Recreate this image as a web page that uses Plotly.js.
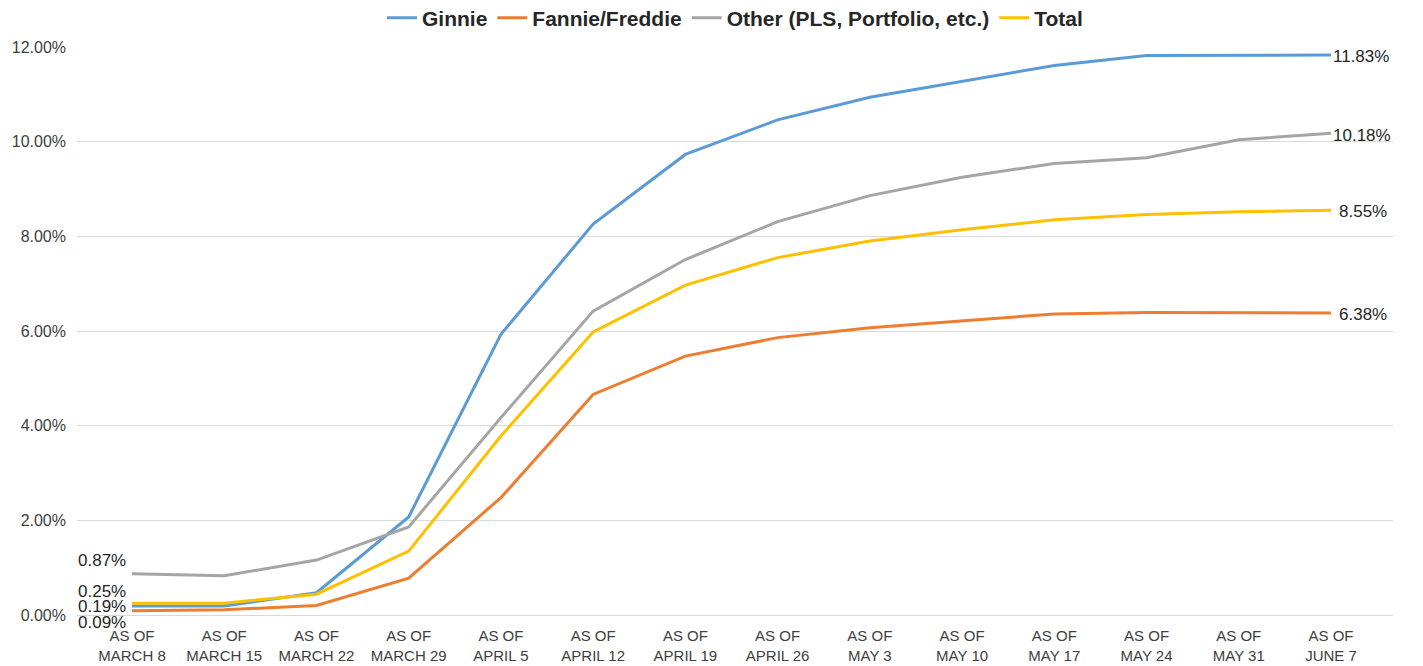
<!DOCTYPE html>
<html>
<head>
<meta charset="utf-8">
<script src="https://cdn.plot.ly/plotly-3.0.1.min.js"></script>
<style>html,body{margin:0;padding:0;background:#fff;}#chart{width:1423px;height:666px;}</style>
</head>
<body>
<div id="chart"></div>
<script>
const categories = ["AS OF<br>MARCH 8","AS OF<br>MARCH 15","AS OF<br>MARCH 22","AS OF<br>MARCH 29","AS OF<br>APRIL 5","AS OF<br>APRIL 12","AS OF<br>APRIL 19","AS OF<br>APRIL 26","AS OF<br>MAY 3","AS OF<br>MAY 10","AS OF<br>MAY 17","AS OF<br>MAY 24","AS OF<br>MAY 31","AS OF<br>JUNE 7"];
const ginnie = [0.19,0.19,0.47,2.07,5.93,8.26,9.73,10.46,10.94,11.27,11.61,11.82,11.83,11.83];
const fannieFreddie = [0.09,0.11,0.20,0.78,2.48,4.66,5.47,5.86,6.07,6.22,6.36,6.39,6.39,6.38];
const other = [0.87,0.83,1.16,1.86,4.17,6.42,7.51,8.31,8.86,9.25,9.54,9.66,10.04,10.18];
const total = [0.25,0.25,0.44,1.35,3.78,5.98,6.97,7.55,7.90,8.14,8.35,8.46,8.52,8.55];
const yTicks = [0,2,4,6,8,10,12];

const seriesNames = ["Ginnie","Fannie/Freddie","Other (PLS, Portfolio, etc.)","Total"];
const seriesData = [ginnie, fannieFreddie, other, total];
const colors = ["#5B9BD5","#ED7D31","#A5A5A5","#FFC000"];

const traces = seriesData.map((d,i)=>({
  type:'scatter', mode:'lines', name:seriesNames[i], x:categories, y:d,
  line:{color:colors[i], width:3}, hoverinfo:'skip'
}));

const fmt = v => v.toFixed(2)+'%';
const leftShifts = [0, -12, 13, 12]; // ginnie, fannie, other, total
const rightShifts = [[0,-1],[6,-1],[0,-2],[6,-1]];
const annoFont = {family:'Liberation Sans, Arial, sans-serif', size:17, color:'#262626'};
const annotations = [];
seriesData.forEach((d,i)=>{
  annotations.push({x:categories[0], y:d[0], xref:'x', yref:'y', text:fmt(d[0]), showarrow:false,
    xanchor:'right', xshift:-5, yshift:leftShifts[i], font:annoFont, borderpad:0});
  const n = d.length-1;
  annotations.push({x:categories[n], y:d[n], xref:'x', yref:'y', text:fmt(d[n]), showarrow:false,
    xanchor:'left', xshift:rightShifts[i][0], yshift:rightShifts[i][1], font:annoFont});
});

const layout = {
  width:1423, height:666,
  margin:{l:77, r:30, t:47, b:51, autoexpand:false},
  paper_bgcolor:'#ffffff', plot_bgcolor:'#ffffff',
  font:{family:'Liberation Sans, Arial, sans-serif', color:'#404040'},
  showlegend:true,
  legend:{orientation:'h', x:0.5, xanchor:'center', xref:'paper', y:1.051, yanchor:'middle', yref:'paper',
    font:{size:21, color:'#262626', weight:'bold'}, traceorder:'normal', itemwidth:30},
  xaxis:{type:'category', tickvals:categories, ticktext:categories, showgrid:false, zeroline:false,
    showline:false, ticks:'', ticklabelstandoff:10, tickfont:{size:15, color:'#404040'}, fixedrange:true, automargin:false},
  yaxis:{range:[0,12], tickvals:yTicks, ticktext:yTicks.map(fmt), showgrid:true, gridcolor:'#D9D9D9', gridwidth:1,
    zeroline:true, zerolinecolor:'#D9D9D9', zerolinewidth:1, showline:false, ticks:'', ticklabelstandoff:10,
    tickfont:{size:16, color:'#404040'}, fixedrange:true, automargin:false},
  annotations:annotations
};
Plotly.newPlot('chart', traces, layout, {displayModeBar:false, staticPlot:true});
</script>
</body>
</html>
